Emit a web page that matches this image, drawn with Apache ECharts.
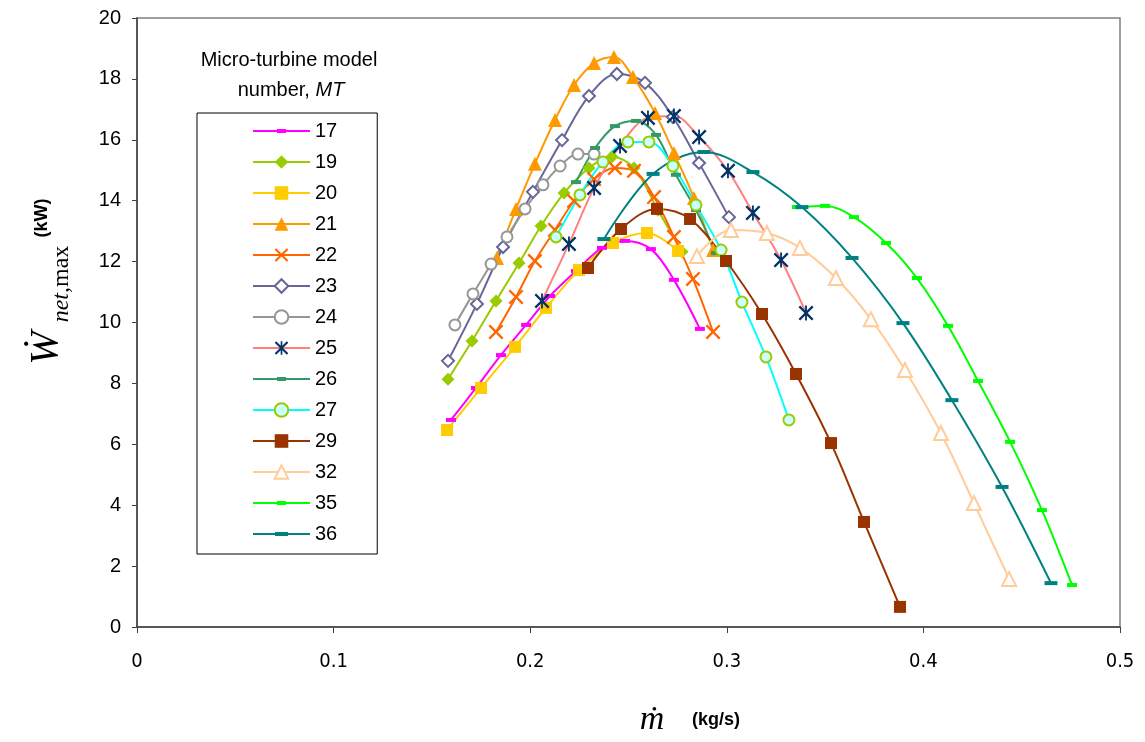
<!DOCTYPE html>
<html>
<head>
<meta charset="utf-8">
<script src="https://cdn.jsdelivr.net/npm/echarts@6/dist/echarts.min.js"></script>
<style>
html,body{margin:0;padding:0;background:#fff;}
#c{width:1145px;height:742px;}
</style>
</head>
<body>
<div id="c"></div>
<script>
// ---- data (mass flow kg/s, net power kW) ----
const seriesNames = ['17','19','20','21','22','23','24','25','26','27','29','32','35','36'];
const xTicks = [0, 0.1, 0.2, 0.3, 0.4, 0.5];
const yTicks = [0, 2, 4, 6, 8, 10, 12, 14, 16, 18, 20];

const mt17 = [[0.1597,6.80],[0.1724,7.85],[0.1851,8.93],[0.1979,9.92],[0.2101,10.87],[0.2233,11.69],[0.2365,12.45],[0.2482,12.68],[0.2614,12.41],[0.2731,11.40],[0.2863,9.79]];
const mt19 = [[0.1582,8.14],[0.1704,9.39],[0.1826,10.71],[0.1943,11.95],[0.2055,13.17],[0.2172,14.25],[0.2299,15.07],[0.2416,15.44],[0.2528,15.07],[0.2650,13.69],[0.2772,12.32]];
const mt20 = [[0.1577,6.47],[0.1750,7.85],[0.1923,9.20],[0.2080,10.48],[0.2248,11.72],[0.2421,12.61],[0.2594,12.94],[0.2752,12.35]];
const mt21 = [[0.1831,12.12],[0.1928,13.73],[0.2024,15.21],[0.2126,16.65],[0.2223,17.80],[0.2325,18.52],[0.2426,18.72],[0.2523,18.06],[0.2635,16.88],[0.2731,15.57],[0.2833,14.09],[0.2930,12.38]];
const mt22 = [[0.1826,9.69],[0.1928,10.84],[0.2024,12.02],[0.2126,13.04],[0.2223,13.99],[0.2325,14.71],[0.2431,15.07],[0.2528,14.98],[0.2630,14.12],[0.2731,12.81],[0.2828,11.43],[0.2930,9.69]];
const mt23 = [[0.1582,8.74],[0.1729,10.61],[0.1862,12.48],[0.2014,14.29],[0.2162,15.99],[0.2299,17.44],[0.2441,18.16],[0.2584,17.87],[0.2726,16.75],[0.2859,15.24],[0.3011,13.46]];
const mt24 = [[0.1617,9.92],[0.1709,10.94],[0.1801,11.92],[0.1882,12.81],[0.1974,13.73],[0.2065,14.52],[0.2152,15.14],[0.2243,15.53],[0.2325,15.53]];
const mt25 = [[0.2060,10.71],[0.2197,12.58],[0.2325,14.42],[0.2457,15.80],[0.2599,16.72],[0.2731,16.78],[0.2859,16.09],[0.3006,14.98],[0.3133,13.60],[0.3276,12.05],[0.3403,10.31]];
const mt26 = [[0.2233,14.61],[0.2330,15.73],[0.2431,16.45],[0.2538,16.62],[0.2640,16.16],[0.2741,14.85],[0.2843,13.69],[0.2945,12.28]];
const mt27 = [[0.2131,12.81],[0.2253,14.19],[0.2370,15.27],[0.2497,15.93],[0.2604,15.93],[0.2726,15.14],[0.2843,13.86],[0.2971,12.38],[0.3077,10.67],[0.3199,8.87],[0.3316,6.80]];
const mt29 = [[0.2294,11.79],[0.2462,13.07],[0.2645,13.73],[0.2813,13.40],[0.2996,12.02],[0.3179,10.28],[0.3352,8.31],[0.3530,6.04],[0.3698,3.45],[0.3881,0.66]];
const mt32 = [[0.2848,12.18],[0.3021,13.04],[0.3204,12.94],[0.3372,12.45],[0.3555,11.46],[0.3733,10.11],[0.3906,8.44],[0.4089,6.37],[0.4257,4.07],[0.4436,1.58]];
const mt35 = [[0.3357,13.79],[0.3500,13.83],[0.3647,13.46],[0.3810,12.61],[0.3967,11.46],[0.4125,9.89],[0.4278,8.08],[0.4441,6.08],[0.4603,3.84],[0.4756,1.38]];
const mt36 = [[0.2375,12.74],[0.2625,14.88],[0.2884,15.60],[0.3133,14.94],[0.3382,13.79],[0.3637,12.12],[0.3896,9.98],[0.4145,7.45],[0.4400,4.60],[0.4649,1.44]];

const seriesData = [mt17, mt19, mt20, mt21, mt22, mt23, mt24, mt25, mt26, mt27, mt29, mt32, mt35, mt36];

// ---- styles ----
const X_PATH = 'path://M0,1.1 L1.1,0 L5,3.9 L8.9,0 L10,1.1 L6.1,5 L10,8.9 L8.9,10 L5,6.1 L1.1,10 L0,8.9 L3.9,5 Z';
const STAR_PATH = 'path://M0,1.1 L1.1,0 L5,3.9 L8.9,0 L10,1.1 L6.1,5 L10,8.9 L8.9,10 L5,6.1 L1.1,10 L0,8.9 L3.9,5 Z M4.4,0 L5.6,0 L5.6,10 L4.4,10 Z';
// legend icon for "line with small dash marker" series
const DASH_ICON = 'path://M0,4 L57,4 L57,6 L0,6 Z M24,3 L33,3 L33,7 L24,7 Z';
const DASH_ICON_WIDE = 'path://M0,4 L57,4 L57,6 L0,6 Z M22,3 L35,3 L35,7 L22,7 Z';

const styles = [
  {line:'#FF00FF', symbol:'rect', size:[10,4], fill:'#FF00FF', icon: DASH_ICON},
  {line:'#99CC00', symbol:'diamond', size:13, fill:'#99CC00'},
  {line:'#FFCC00', symbol:'rect', size:12, fill:'#FFCC00'},
  {line:'#FF9900', symbol:'triangle', size:14, fill:'#FF9900'},
  {line:'#FF6600', symbol:X_PATH, size:15, fill:'#FF6600'},
  {line:'#666699', symbol:'diamond', size:12, fill:'#ffffff', border:'#666699'},
  {line:'#969696', symbol:'circle', size:11, fill:'#ffffff', border:'#969696'},
  {line:'#FF8080', symbol:STAR_PATH, size:15, fill:'#003366'},
  {line:'#339966', symbol:'rect', size:[10,4], fill:'#339966', icon: DASH_ICON},
  {line:'#00FFFF', symbol:'circle', size:11, fill:'#CCFFFF', border:'#99CC00'},
  {line:'#993300', symbol:'rect', size:12, fill:'#993300'},
  {line:'#FFCC99', symbol:'triangle', size:14, fill:'#ffffff', border:'#FFCC99'},
  {line:'#00FF00', symbol:'rect', size:[10,4], fill:'#00FF00', icon: DASH_ICON},
  {line:'#008080', symbol:'rect', size:[13,4], fill:'#008080', icon: DASH_ICON_WIDE}
];

const series = seriesNames.map((n, i) => {
  const s = styles[i];
  return {
    name: n,
    type: 'line',
    data: seriesData[i],
    smooth: 0.35,
    symbol: s.symbol,
    symbolSize: s.size,
    showAllSymbol: true,
    lineStyle: {color: s.line, width: 2},
    itemStyle: {color: s.fill, borderColor: s.border || s.fill, borderWidth: s.border ? 2 : 0, opacity: 1},
    emphasis: {disabled: true},
    animation: false
  };
});

const legendData = seriesNames.map((n, i) => {
  const s = styles[i];
  const d = {name: n};
  if (s.icon) { d.icon = s.icon; d.itemStyle = {color: s.line, borderWidth: 0}; }
  return d;
});

const chart = echarts.init(document.getElementById('c'), null, {renderer: 'canvas'});
chart.setOption({
  backgroundColor: '#ffffff',
  animation: false,
  grid: {left: 137, right: 25, top: 18, bottom: 115, show: true, borderColor: '#808080', borderWidth: 1.5, backgroundColor: 'transparent'},
  xAxis: {
    type: 'value', min: xTicks[0], max: xTicks[xTicks.length - 1], interval: 0.1,
    axisLine: {lineStyle: {color: '#404040', width: 1.5}},
    axisTick: {show: true, inside: false, length: 6, lineStyle: {color: '#404040'}},
    axisLabel: {fontFamily: '"Liberation Sans Narrow", "DejaVu Sans Condensed", "Liberation Sans", Arial', fontSize: 20, color: '#000', margin: 25},
    splitLine: {show: false}
  },
  yAxis: {
    type: 'value', min: yTicks[0], max: yTicks[yTicks.length - 1], interval: 2,
    axisLine: {show: true, lineStyle: {color: '#404040', width: 1.5}},
    axisTick: {show: true, inside: false, length: 5, lineStyle: {color: '#404040'}},
    axisLabel: {fontFamily: '"Liberation Sans", Arial', fontSize: 20, color: '#000', margin: 16},
    splitLine: {show: false}
  },
  legend: {
    orient: 'vertical',
    left: 197, top: 113,
    padding: [8, 40, 10, 55],
    itemWidth: 57, itemHeight: 17, itemGap: 11,
    borderColor: '#000', borderWidth: 1,
    backgroundColor: '#fff',
    textStyle: {fontFamily: '"Liberation Sans", Arial', fontSize: 20, color: '#000'},
    data: legendData,
    selectedMode: false
  },
  graphic: [
    {type: 'text', x: 289, y: 60, style: {text: 'Micro-turbine model', font: '20px "Liberation Sans", Arial', fill: '#000', align: 'center', verticalAlign: 'middle'}},
    {type: 'text', x: 291, y: 90, style: {text: '{n|number, }{i|MT}', align: 'center', verticalAlign: 'middle',
      rich: {n: {font: '20px "Liberation Sans", Arial', fill: '#000'}, i: {font: 'italic 20px "Liberation Sans", Arial', fill: '#000'}}}},
    // x axis title
    {type: 'text', x: 652, y: 720, style: {text: 'ṁ', font: 'italic 34px "Liberation Serif", "DejaVu Serif", serif', fill: '#000', align: 'center', verticalAlign: 'middle'}},
    {type: 'text', x: 716, y: 720, style: {text: '(kg/s)', font: 'bold 18px "Liberation Sans", Arial', fill: '#000', align: 'center', verticalAlign: 'middle'}},
    // y axis title (rotated)
    {type: 'text', x: 46, y: 348, rotation: Math.PI / 2, style: {text: 'Ẇ', font: 'italic 40px "Liberation Serif", "DejaVu Serif", serif', fill: '#000', align: 'center', verticalAlign: 'middle'}},
    {type: 'text', x: 62, y: 284, rotation: Math.PI / 2, style: {text: '{a|net}{b|,max}', align: 'center', verticalAlign: 'middle',
      rich: {a: {font: 'italic 24px "Liberation Serif", serif', fill: '#000'}, b: {font: '24px "Liberation Serif", serif', fill: '#000'}}}},
    {type: 'text', x: 42, y: 218, rotation: Math.PI / 2, style: {text: '(kW)', font: 'bold 18px "Liberation Sans", Arial', fill: '#000', align: 'center', verticalAlign: 'middle'}}
  ],
  series: series
});
</script>
</body>
</html>
